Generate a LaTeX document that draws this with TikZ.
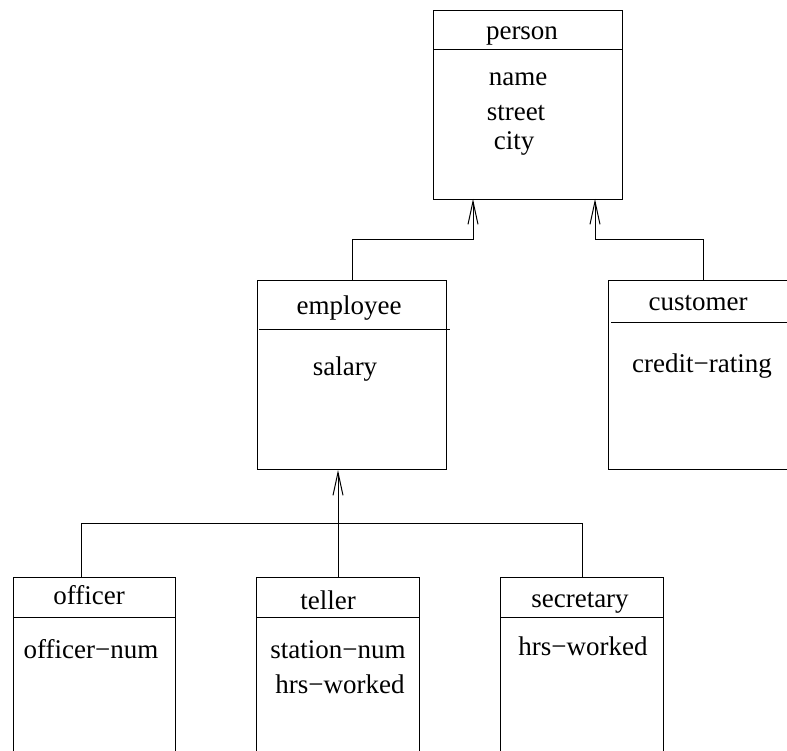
\documentclass[tikz,border=0pt]{standalone}
\usepackage{fontspec}
\setmainfont{Liberation Serif}
\usetikzlibrary{arrows.meta,calc}
\begin{document}
\begin{tikzpicture}[x=1pt,y=-1pt,
  cls/.style={draw,line width=1pt,rectangle,inner sep=0pt,anchor=north west},
  lbl/.style={anchor=base,inner sep=0pt,font=\fontsize{27}{32}\selectfont},
  ln/.style={line width=1pt},
  arr/.style={line width=1pt,-{Straight Barb[length=23pt,width=10pt,line width=1pt]}}]
\useasboundingbox (0,0) rectangle (787,751);
% boxes
\node[cls,minimum width=189pt,minimum height=189pt] (person) at (433,10) {};
\node[cls,minimum width=189pt,minimum height=189pt] (employee) at (257,280) {};
\node[cls,minimum width=190pt,minimum height=189pt] (customer) at (608,280) {};
\node[cls,minimum width=162pt,minimum height=220pt] (officer) at (13,577) {};
\node[cls,minimum width=163pt,minimum height=220pt] (teller) at (256,577) {};
\node[cls,minimum width=163pt,minimum height=220pt] (secretary) at (500,577) {};
% dividers
\draw[ln] ($(person.north west)+(0,40)$) -- ($(person.north east)+(0,40)$);
\draw[ln] ($(employee.north west)+(2,49)$) -- ($(employee.north east)+(3,49)$);
\draw[ln] ($(customer.north west)+(3,42)$) -- ($(customer.north east)+(0,42)$);
\draw[ln] ($(officer.north west)+(0,40)$) -- ($(officer.north east)+(0,40)$);
\draw[ln] ($(teller.north west)+(0,40)$) -- ($(teller.north east)+(0,40)$);
\draw[ln] ($(secretary.north west)+(0,40)$) -- ($(secretary.north east)+(0,40)$);
% texts
\node[lbl] (tperson) at (522,40) {person};
\node[lbl] (tname) at (518,86) {name};
\node[lbl] (tstreet) at (516,121) {street};
\node[lbl] (tcity) at (514,150) {city};
\node[lbl] (temployee) at (349,315) {employee};
\node[lbl] (tsalary) at (345,375) {salary};
\node[lbl] (tcustomer) at (698,310) {customer};
\node[lbl] (tcredit) at (702,372) {credit−rating};
\node[lbl] (tofficer) at (89,604) {officer};
\node[lbl] (tofficernum) at (91,658) {officer−num};
\node[lbl] (tteller) at (328,609) {teller};
\node[lbl] (tstation) at (338,658) {station−num};
\node[lbl] (thrs1) at (340,693) {hrs−worked};
\node[lbl] (tsecretary) at (580,607) {secretary};
\node[lbl] (thrs2) at (583,655) {hrs−worked};
% connectors
\coordinate (pin1) at (473,199);
\coordinate (pin2) at (595,199);
\coordinate (bus1) at (473,240);
\coordinate (bus2) at (595,240);
\coordinate (otop) at ($(officer.north west)+(68,0)$);
\draw[arr] (employee.north) |- (bus1) -- (pin1);
\draw[arr] (customer.north) |- (bus2) -- (pin2);
\draw[ln] (otop) -- ++(0,-54) -| (secretary.north);
\draw[arr] (teller.north) -- (teller.north |- employee.south);
\end{tikzpicture}
\end{document}
